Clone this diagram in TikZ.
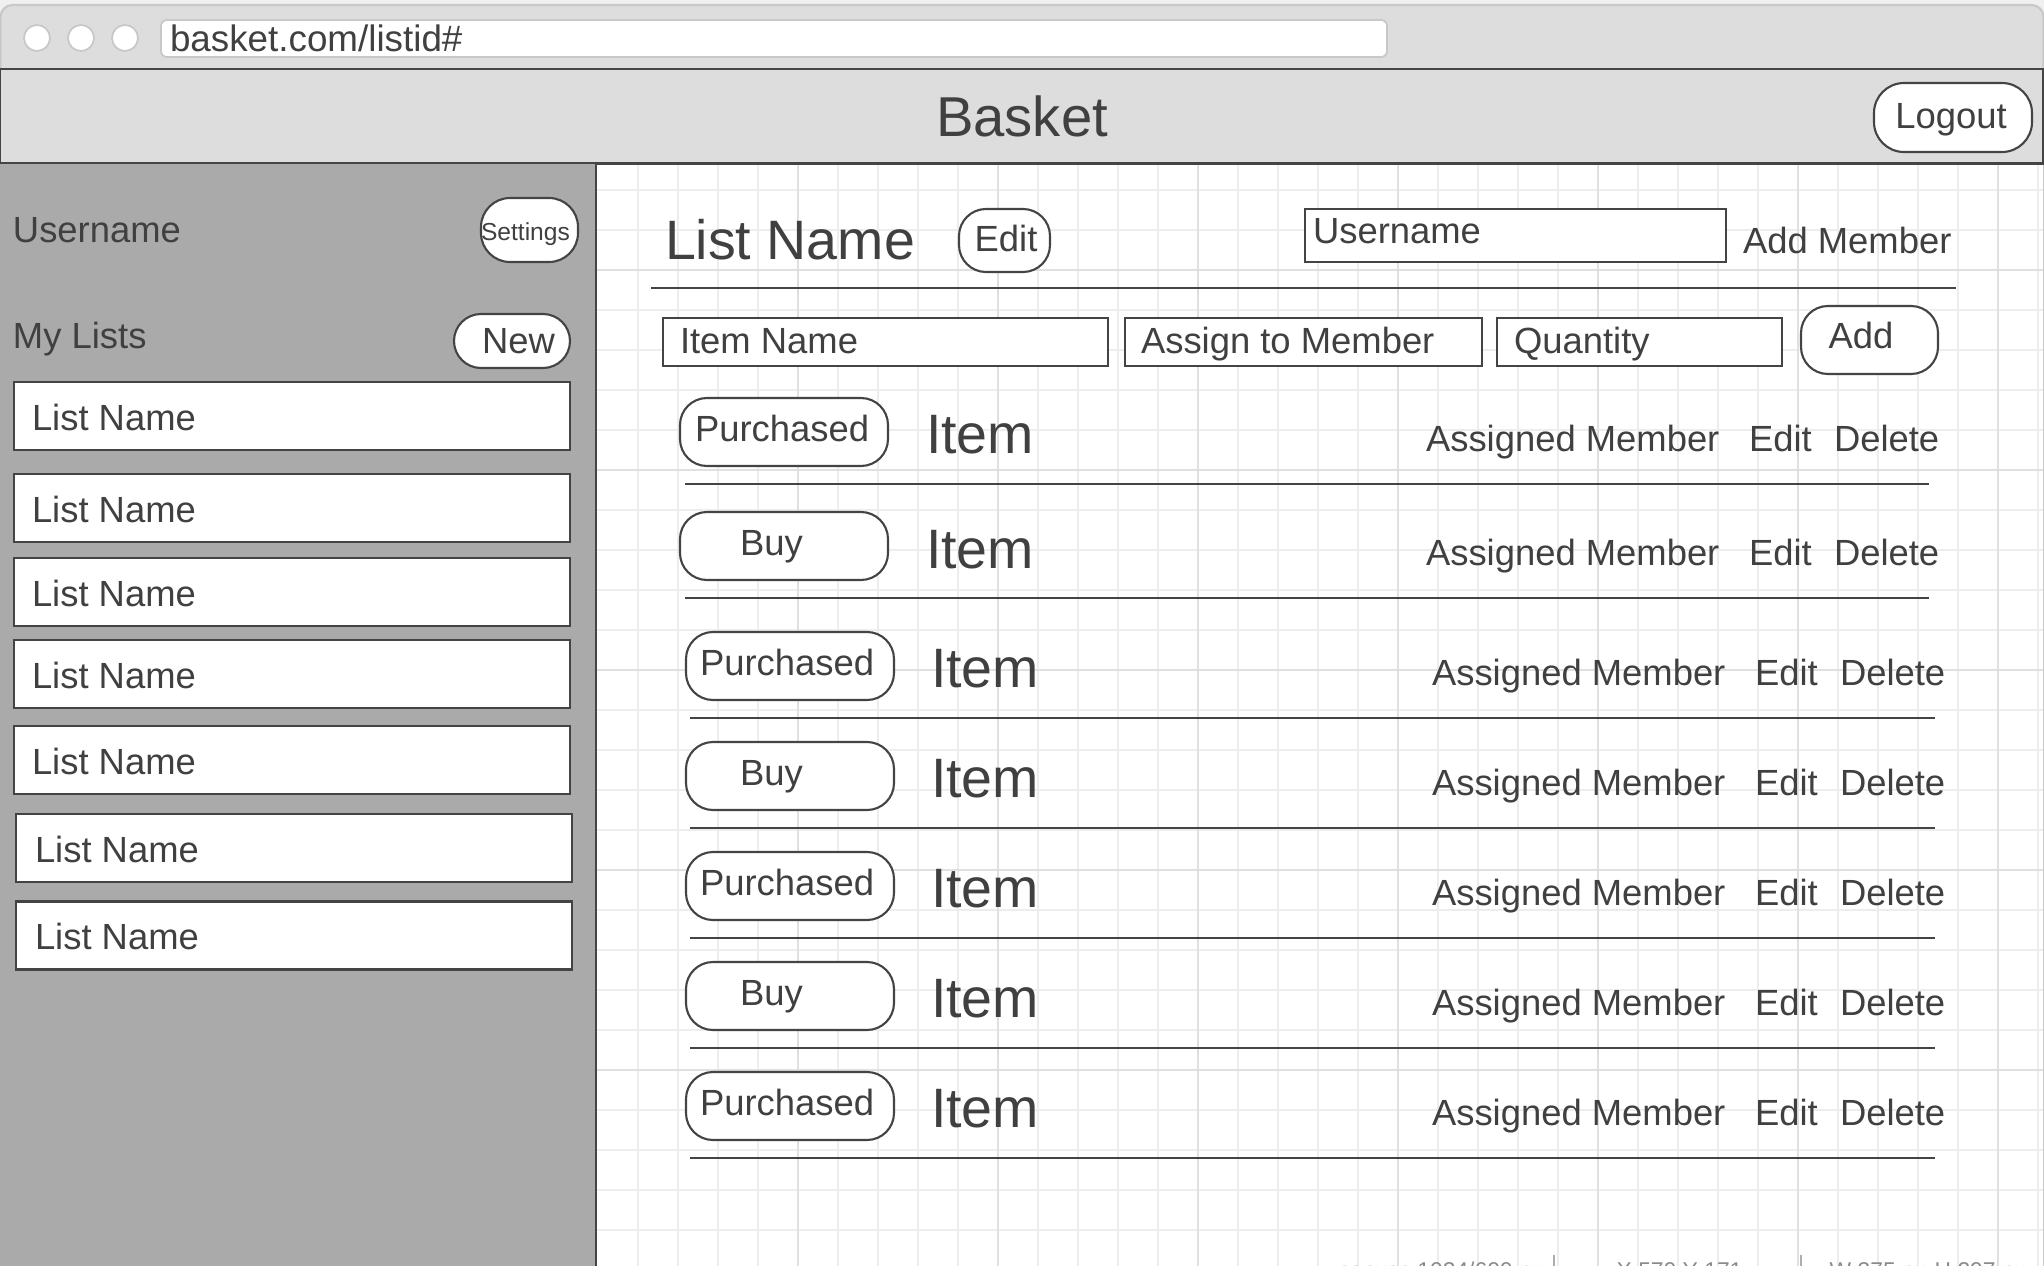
\documentclass[tikz,border=0pt]{standalone}
\usepackage{fontspec}
\setmainfont{Liberation Sans}
\definecolor{ink}{HTML}{444444}
\definecolor{txt}{HTML}{404040}
\definecolor{chrome}{HTML}{DDDDDD}
\definecolor{chromeline}{HTML}{C8C8C8}
\definecolor{side}{HTML}{AAAAAA}
\definecolor{gminor}{HTML}{EDEDED}
\definecolor{gmajor}{HTML}{E0E0E0}
\definecolor{topbg}{HTML}{F0F0F0}
\definecolor{stat}{HTML}{8A8A8A}
\begin{document}
\begin{tikzpicture}[x=0.1mm,y=-0.1mm,
  wh/.style 2 args={minimum width=#1*0.1mm, minimum height=#2*0.1mm},
  t/.style={inner sep=0pt, outer sep=0pt, text=txt, font=\fontsize{10.36}{12}\selectfont, anchor=base west},
  tbig/.style={t, font=\fontsize{15.8}{18}\selectfont},
  tsmall/.style={t, font=\fontsize{7}{8}\selectfont},
  field/.style={draw=ink, fill=white, line width=0.6pt, inner sep=0pt, outer sep=0pt},
  btn/.style={draw=ink, fill=white, line width=0.6pt, inner sep=0pt, outer sep=0pt, rounded corners=2.7mm},
  sep/.style={draw=ink, line width=0.6pt},
  dot/.style={circle, draw=chromeline, fill=white, line width=0.5pt, inner sep=0pt, minimum size=2.6mm},
  gridminor/.style={draw=gminor, line width=0.5pt},
  gridmajor/.style={draw=gmajor, line width=0.6pt},
  status/.style={inner sep=0pt, text=stat, font=\fontsize{6.5}{8}\selectfont, anchor=base west}
]
\useasboundingbox (0,0) rectangle (2044,1266);
\fill[topbg] (0,0) rectangle (2044,1266);
% browser window
\draw[draw=chromeline, fill=chrome, line width=0.6pt, rounded corners=1.2mm] (0.5,5) rectangle (2043.5,1320);
\node[dot] (c1) at (37,38) {};
\node[dot] (c2) at (81,38) {};
\node[dot] (c3) at (125,38) {};
\node[draw=chromeline, fill=white, line width=0.5pt, rounded corners=0.6mm, inner sep=0pt, wh={1226}{37}] (url) at (774,38.5) {};
\node[t, font=\fontsize{10.47}{12}\selectfont] (urltxt) at (170,51) {basket.com/listid\#};

% content grid
\begin{scope}
\clip (597,164) rectangle (2043,1266);
\fill[white] (597,164) rectangle (2043,1266);
\foreach \x in {638,678,...,2040} \draw[gridminor] (\x,164) -- (\x,1266);
\foreach \y in {190,230,...,1266} \draw[gridminor] (597,\y) -- (2043,\y);
\foreach \x in {798,998,...,1998} \draw[gridmajor] (\x,164) -- (\x,1266);
\foreach \y in {270,470,...,1070} \draw[gridmajor] (597,\y) -- (2043,\y);
\end{scope}

% header bar
\draw[fill=chrome, draw=ink, line width=0.7pt] (0,69) rectangle (2043,163.5);
\node[t, anchor=base, font=\fontsize{16}{18}\selectfont] (title) at (1022,136) {Basket};
\node[btn, wh={158}{69}, rounded corners=3mm] (logout) at (1953,117.5) {};
\node[t, anchor=base] (logouttxt) at (1951,128) {Logout};

% sidebar
\fill[side] (0,164) rectangle (596,1266);
\draw[ink, line width=0.7pt] (596,163.5) -- (596,1266);
\node[t] (uname) at (13,242) {Username};
\node[btn, wh={97}{64}, rounded corners=2.9mm] (settings) at (529.5,230) {};
\node[tsmall] (settingstxt) at (481,240) {Settings};
\node[t] (mylists) at (13,348) {My Lists};
\node[btn, wh={116}{54}] (new) at (512,341) {};
\node[t] (newtxt) at (482,353) {New};
\foreach \i/\cx/\cy/\tx in {1/292/416/32, 2/292/508/32, 3/292/592/32, 4/292/674/32, 5/292/760/32, 6/294/848/35, 7/294/935.5/35}{
  \node[field, wh={556}{68}] (list\i) at (\cx,\cy) {};
  \node[t] (listtxt\i) at (\tx,\cy+14) {List Name};
}

% list header
\node[tbig] (lname) at (665,259) {List Name};
\node[btn, wh={91}{63}] (editlist) at (1004.5,240.5) {};
\node[t, anchor=base] (editlisttxt) at (1006,251) {Edit};
\node[field, wh={421}{53}] (userin) at (1515.5,235.5) {};
\node[t] (userintxt) at (1313,243) {Username};
\node[t] (addmem) at (1743,253) {Add Member};
\coordinate (hs1) at (651,288);
\coordinate (hs2) at (1956,288);
\draw[sep] (hs1) -- (hs2);

% input row
\node[field, wh={445}{48}] (iname) at (885.5,342) {};
\node[t] (inametxt) at (680,353) {Item Name};
\node[field, wh={357}{48}] (assign) at (1303.5,342) {};
\node[t] (assigntxt) at (1141,353) {Assign to Member};
\node[field, wh={285}{48}] (qty) at (1639.5,342) {};
\node[t] (qtytxt) at (1514,353) {Quantity};
\node[btn, wh={137}{68}] (add) at (1869.5,340) {};
\node[t, anchor=base] (addtxt) at (1861,348) {Add};

% item rows
\foreach \r/\bx/\by/\lbl/\lx/\ix/\ib/\ax/\rb/\ly/\la/\lb in {
  1/784/432/Purchased/695/926/453/1426/451/484/685/1929,
  2/784/546/Buy/740/926/568/1426/565/598/685/1929,
  3/790/666/Purchased/700/931/687/1432/685/718/690/1935,
  4/790/776/Buy/740/931/797/1432/795/828/690/1935,
  5/790/886/Purchased/700/931/907/1432/905/938/690/1935,
  6/790/996/Buy/740/931/1017/1432/1015/1048/690/1935,
  7/790/1106/Purchased/700/931/1127/1432/1125/1158/690/1935}{
  \node[btn, wh={208}{68}] (state\r) at (\bx,\by) {};
  \node[t] (statetxt\r) at (\lx,\by+9.5) {\lbl};
  \node[tbig] (item\r) at (\ix,\ib) {Item};
  \node[t] (am\r) at (\ax,\rb) {Assigned Member};
  \node[t] (ed\r) at (\ax+323,\rb) {Edit};
  \node[t] (del\r) at (\ax+408,\rb) {Delete};
  \coordinate (la\r) at (\la,\ly);
  \coordinate (lb\r) at (\lb,\ly);
  \draw[sep] (la\r) -- (lb\r);
}

% status bar (cut off at the bottom edge)
\begin{scope}
\clip (597,1200) rectangle (2043,1266);
\node[status] (st1) at (1338,1278) {canvas 1024/600 px};
\node[status] (st2) at (1616,1278) {X 570 Y 171};
\node[status] (st3) at (1829,1278) {W 375 px};
\node[status] (st4) at (1934,1278) {H 297 px};
\coordinate (s1a) at (1554,1255); \coordinate (s1b) at (1554,1266);
\coordinate (s2a) at (1801,1255); \coordinate (s2b) at (1801,1266);
\draw[stat!70, line width=0.5pt] (s1a) -- (s1b);
\draw[stat!70, line width=0.5pt] (s2a) -- (s2b);
\end{scope}
\end{tikzpicture}
\end{document}
